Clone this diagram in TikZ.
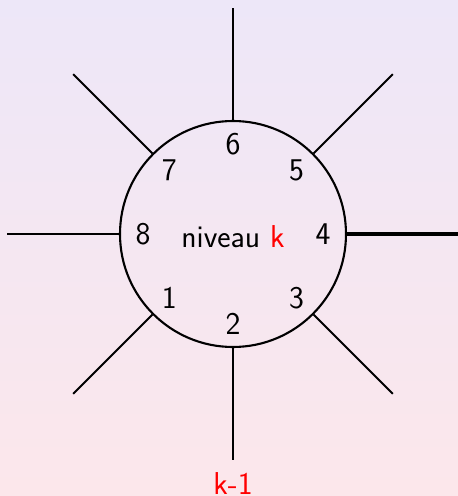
\documentclass[tikz,border=0pt]{standalone}
\usepackage{xcolor}
\definecolor{fondhaut}{RGB}{237,231,248}
\definecolor{fondbas}{RGB}{252,231,235}
\begin{document}
\begin{tikzpicture}[font=\fontsize{18}{22}\selectfont\sffamily]
	% Fond
	\shade[top color=fondhaut, bottom color=fondbas] (-4.66,-5.24) rectangle (4.5,4.68);
	\useasboundingbox (-4.66,-5.24) rectangle (4.5,4.68);
	% Niveau
	\node[draw, circle, line width=1.2pt, minimum size=4.52cm, inner sep=0pt] (niv) at (0,0) {};
	\node (txt) at (0,-0.06) {niveau \textcolor{red}{k}};
	% Numeros
	\node (n1) at (225:1.8) {1};
	\node (n2) at (270:1.8) {2};
	\node (n3) at (315:1.8) {3};
	\node (n4) at (0:1.8) {4};
	\node (n5) at (45:1.8) {5};
	\node (n6) at (90:1.8) {6};
	\node (n7) at (135:1.8) {7};
	\node (n8) at (180:1.8) {8};
	% Liaisons
	\coordinate (b1) at (225:4.52);
	\coordinate (b2) at (270:4.52);
	\coordinate (b3) at (315:4.52);
	\coordinate (b4) at (0:4.6);
	\coordinate (b5) at (45:4.52);
	\coordinate (b6) at (90:4.52);
	\coordinate (b7) at (135:4.52);
	\coordinate (b8) at (180:4.52);
	\draw[line width=1.2pt] (niv.225) -- (b1);
	\draw[line width=1.2pt] (niv.270) -- (b2);
	\draw[line width=1.2pt] (niv.315) -- (b3);
	\draw[line width=2.2pt] (niv.0) -- (b4);
	\draw[line width=1.2pt] (niv.45) -- (b5);
	\draw[line width=1.2pt] (niv.90) -- (b6);
	\draw[line width=1.2pt] (niv.135) -- (b7);
	\draw[line width=1.2pt] (niv.180) -- (b8);
	\node[red] (km) at (0,-5.0) {k-1};
\end{tikzpicture}
\end{document}
